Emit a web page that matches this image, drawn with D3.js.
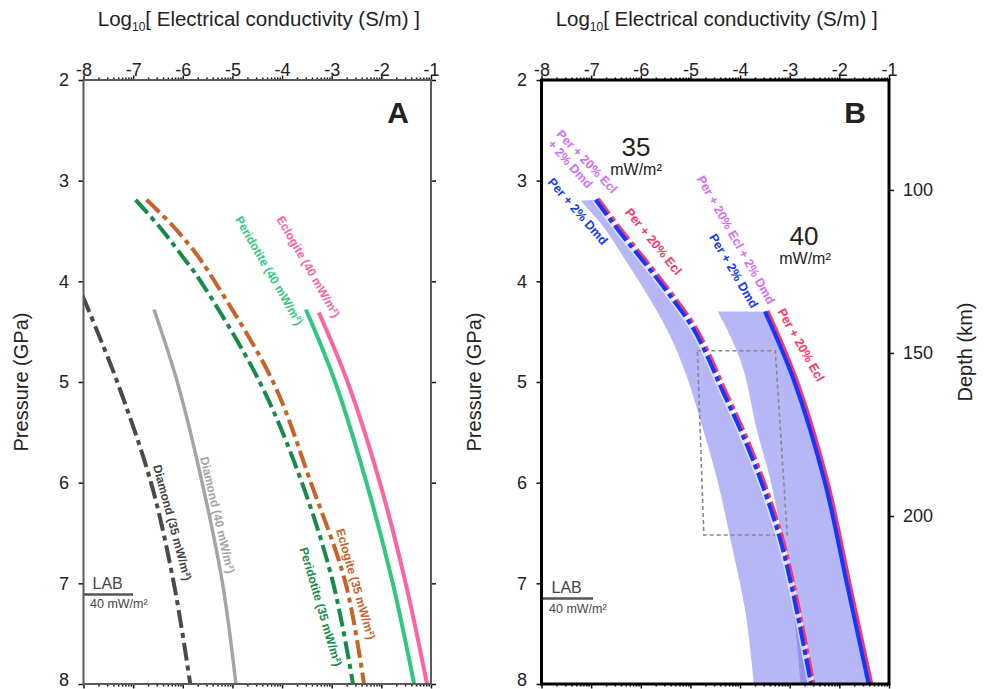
<!DOCTYPE html>
<html><head><meta charset="utf-8">
<script src="https://cdn.jsdelivr.net/npm/d3@7"></script>
<style>body{margin:0;background:#fff} svg{display:block} text{font-family:"Liberation Sans",Arial,Helvetica,sans-serif}</style>
</head><body>
<svg id="c" width="987" height="689"></svg>
<script>
// ---- axis ticks ----
const xTicks = [-8,-7,-6,-5,-4,-3,-2,-1];
const pTicks = [2,3,4,5,6,7,8];
const depthTicks = [100,150,200];
const depthDomain = [66.3, 251.5];

// ---- Panel A series: [log10 conductivity, pressure GPa] ----
const diamond35 = [[-8.02,4.14],[-7.72,4.5],[-7.32,5.0],[-6.64,6.0],[-6.18,7.0],[-5.85,8.0]];
const diamond40 = [[-6.58,4.28],[-6.11,5.0],[-5.61,6.0],[-5.2,7.0],[-4.93,8.0]];
const peridotite35 = [[-6.95,3.19],[-6.45,3.47],[-5.98,3.77],[-5.68,3.97],[-4.45,5.0],[-3.6,6.0],[-2.97,7.0],[-2.57,8.0]];
const eclogite35 = [[-6.73,3.19],[-6.18,3.46],[-5.71,3.74],[-5.41,3.96],[-4.18,5.0],[-3.42,6.0],[-2.72,7.0],[-2.35,8.0]];
const peridotite40 = [[-3.52,4.28],[-2.93,5.0],[-2.30,6.0],[-1.77,7.0],[-1.34,8.0]];
const eclogite40 = [[-3.26,4.31],[-2.68,5.0],[-2.03,6.0],[-1.51,7.0],[-1.08,8.0]];
const labAPressure = 7.11;

// ---- Panel B series ----
const band35Left = [[-7.21,3.2],[-6.75,3.46],[-6.27,3.82],[-5.80,4.19],[-5.40,4.55],[-5.07,4.95],[-4.74,5.48],[-4.46,5.97],[-4.16,6.64],[-3.89,7.29],[-3.72,8.0]];
const mix35 = [[-6.91,3.19],[-6.41,3.52],[-5.87,3.85],[-5.40,4.15],[-4.93,4.48],[-4.60,4.81],[-4.39,5.05],[-3.99,5.48],[-3.59,5.97],[-3.19,6.57],[-2.92,7.13],[-2.57,8.0]];
const band40Left = [[-4.45,4.30],[-4.19,4.55],[-3.93,4.88],[-3.66,5.48],[-3.39,5.97],[-3.12,6.64],[-2.92,7.29],[-2.78,8.0]];
const mix40 = [[-3.50,4.30],[-2.905,5.0],[-2.29,6.0],[-1.85,7.0],[-1.41,8.0]];
const zoomBox = [[-4.86,4.69],[-3.29,4.69],[-3.05,6.52],[-4.73,6.52]];
const labBPressure = 7.15;

const FONT = '"Liberation Sans",Arial,Helvetica,sans-serif';
const svg = d3.select("#c");
const yP = d3.scaleLinear().domain([2,8]).range([80,684]);
const xA = d3.scaleLinear().domain([-8,-1]).range([83.5,431]);
const xB = d3.scaleLinear().domain([-8,-1]).range([541.5,889]);
const yD = d3.scaleLinear().domain(depthDomain).range([80,684]);

const minor = [];
for (let d=-8; d<-1; d++) for (let k=2; k<=9; k++) minor.push(d+Math.log10(k));

const defs = svg.append("defs");
defs.append("clipPath").attr("id","clipA").append("rect").attr("x",83.5).attr("y",80).attr("width",431-83.5).attr("height",604);
defs.append("clipPath").attr("id","clipB").append("rect").attr("x",541.5).attr("y",80).attr("width",889-541.5).attr("height",604);

function lineGen(x){ return d3.line().x(d=>x(d[0])).y(d=>yP(d[1])).curve(d3.curveCatmullRom.alpha(0.5)); }

function axesFor(x, left, right, boxColor, boxW, isB){
  const g = svg.append("g");
  const fmt = d => String(d);
  const top = g.append("g").attr("transform",`translate(0,80)`)
    .call(d3.axisTop(x).tickValues(xTicks).tickSize(4.5).tickPadding(0).tickFormat(fmt));
  top.selectAll("text").attr("font-size",18).attr("fill","#222").style("font-family",FONT);
  g.append("g").attr("transform",`translate(0,80)`).call(d3.axisTop(x).tickValues(minor).tickSize(2.5).tickFormat(""));
  g.append("g").attr("transform",`translate(0,684)`).call(d3.axisBottom(x).tickValues(xTicks).tickSize(4.5).tickFormat(""));
  g.append("g").attr("transform",`translate(0,684)`).call(d3.axisBottom(x).tickValues(minor).tickSize(2.5).tickFormat(""));
  const l = g.append("g").attr("transform",`translate(${left},0)`)
    .call(d3.axisLeft(yP).tickValues(pTicks).tickSize(5).tickPadding(9.5).tickFormat(fmt));
  l.selectAll("text").attr("font-size",18).attr("fill","#222").style("font-family",FONT);
  l.selectAll(".tick").filter(d => d === 8).select("text").attr("y",-3).attr("dy","0.25em");
  if (!isB) {
    g.append("g").attr("transform",`translate(${right},0)`).call(d3.axisRight(yP).tickValues(pTicks).tickSize(5).tickFormat(""));
  } else {
    const r = g.append("g").attr("transform",`translate(${right},0)`)
      .call(d3.axisRight(yD).tickValues(depthTicks).tickSize(5).tickPadding(9).tickFormat(fmt));
    r.selectAll("text").attr("font-size",18).attr("fill","#222").style("font-family",FONT);
  }
  g.selectAll(".domain").remove();
  g.selectAll(".tick line").attr("stroke","#111").attr("stroke-width",1.5);
  svg.append("rect").attr("x",left).attr("y",80).attr("width",right-left).attr("height",604)
    .attr("fill","none").attr("stroke",boxColor).attr("stroke-width",boxW);
}

function title(cx){
  const t = svg.append("text").attr("x",cx).attr("y",26).attr("text-anchor","middle")
    .attr("font-size",20.5).attr("fill","#222");
  t.append("tspan").text("Log");
  t.append("tspan").attr("font-size",12).attr("dy",5).text("10");
  t.append("tspan").attr("dy",-5).text("[ Electrical conductivity (S/m) ]");
}

function rotLabel(cx,cy,ang,txt,color,size){
  svg.append("text").attr("transform",`translate(${cx},${cy}) rotate(${ang})`)
    .attr("text-anchor","middle").attr("dominant-baseline","central")
    .attr("font-size",size).attr("font-weight","bold").attr("fill",color).text(txt);
}

// ================= Panel A =================
const gA = svg.append("g").attr("clip-path","url(#clipA)");
const lA = lineGen(xA);
const dashA = "18,5,5,5";
gA.append("path").attr("d",lA(diamond35)).attr("fill","none").attr("stroke","#4a4a4a").attr("stroke-width",4).attr("stroke-dasharray",dashA);
gA.append("path").attr("d",lA(diamond40)).attr("fill","none").attr("stroke","#a5a5a5").attr("stroke-width",3.5);
gA.append("path").attr("d",lA(peridotite35)).attr("fill","none").attr("stroke","#148c48").attr("stroke-width",4).attr("stroke-dasharray",dashA);
gA.append("path").attr("d",lA(eclogite35)).attr("fill","none").attr("stroke","#c96128").attr("stroke-width",4).attr("stroke-dasharray",dashA);
gA.append("path").attr("d",lA(peridotite40)).attr("fill","none").attr("stroke","#30c87c").attr("stroke-width",4);
gA.append("path").attr("d",lA(eclogite40)).attr("fill","none").attr("stroke","#ff62a0").attr("stroke-width",4);

rotLabel(269,270.7,60,"Peridotite (40 mW/m²)","#30c880",12);
rotLabel(308.3,266.7,60,"Eclogite (40 mW/m²)","#ff5fa5",12);
rotLabel(172.3,522.7,75,"Diamond (35 mW/m²)","#444",12);
rotLabel(217.3,515,77,"Diamond (40 mW/m²)","#a5a5a5",12);
rotLabel(355.7,584,74,"Eclogite (35 mW/m²)","#c96128",12);
rotLabel(320.7,606.7,73.7,"Peridotite (35 mW/m²)","#148c48",12);

// LAB A
svg.append("line").attr("x1",83.5).attr("x2",133).attr("y1",yP(labAPressure)).attr("y2",yP(labAPressure)).attr("stroke","#555").attr("stroke-width",2.5);
svg.append("text").attr("x",92.5).attr("y",yP(labAPressure)-5.5).attr("font-size",16).attr("fill","#444").text("LAB");
svg.append("text").attr("x",90).attr("y",yP(labAPressure)+14).attr("font-size",12.5).attr("fill","#444").text("40 mW/m²");

svg.append("text").attr("x",398).attr("y",123).attr("text-anchor","middle").attr("font-size",30).attr("font-weight","bold").attr("fill","#222").text("A");

axesFor(xA,83.5,431,"#5a5a5a",2,false);
title(258.8);
svg.append("text").attr("transform","translate(28,382) rotate(-90)").attr("text-anchor","middle").attr("font-size",20).attr("fill","#222").text("Pressure (GPa)");

// ================= Panel B =================
const gB = svg.append("g").attr("clip-path","url(#clipB)");
const lB = lineGen(xB);
function bandPath(leftEdge, rightEdge){
  const a = lB(leftEdge);
  const b = lB(rightEdge.slice().reverse());
  return a + b.replace(/^M/,"L") + "Z";
}
gB.append("path").attr("d",bandPath(band35Left,mix35)).attr("fill","#7070f0").attr("fill-opacity",0.5);
gB.append("path").attr("d",bandPath(band40Left,mix40)).attr("fill","#7070f0").attr("fill-opacity",0.5);

gB.append("path").attr("d",d3.line().x(d=>xB(d[0])).y(d=>yP(d[1]))(zoomBox)+"Z")
  .attr("fill","none").attr("stroke","#888").attr("stroke-width",1.6).attr("stroke-dasharray","4,3");

const dashB = "19,4,5,4";
gB.append("path").attr("d",lB(mix35)).attr("fill","none").attr("stroke","#fff").attr("stroke-opacity",0.6).attr("stroke-width",7);
gB.append("path").attr("d",lB(mix35)).attr("fill","none").attr("stroke","#ff3366").attr("stroke-width",4).attr("stroke-dasharray",dashB).attr("transform","translate(2.2,-1.2)");
gB.append("path").attr("d",lB(mix35)).attr("fill","none").attr("stroke","#1238ff").attr("stroke-width",4).attr("stroke-dasharray",dashB);
gB.append("path").attr("d",lB(mix40)).attr("fill","none").attr("stroke","#ff3366").attr("stroke-width",4).attr("transform","translate(2.5,-0.8)");
gB.append("path").attr("d",lB(mix40)).attr("fill","none").attr("stroke","#1238ff").attr("stroke-width",4);

rotLabel(586.7,161.7,46.5,"Per + 20% Ecl","#d36cff",12.5);
rotLabel(570,164.2,48,"+ 2% Dmd","#d36cff",12.5);
rotLabel(577.5,211.5,49,"Per + 2% Dmd","#1238ff",12.5);
rotLabel(653.3,241.7,51,"Per + 20% Ecl","#ff3366",12.5);
rotLabel(735.8,240,60.5,"Per + 20% Ecl + 2% Dmd","#d36cff",12.5);
rotLabel(733.5,271,59.4,"Per + 2% Dmd","#1238ff",12.5);
rotLabel(800.8,345,60.4,"Per + 20% Ecl","#ff3366",12.5);

svg.append("text").attr("x",636).attr("y",156).attr("text-anchor","middle").attr("font-size",26).attr("fill","#222").text("35");
svg.append("text").attr("x",636).attr("y",175).attr("text-anchor","middle").attr("font-size",16).attr("fill","#222").text("mW/m²");
svg.append("text").attr("x",804).attr("y",245).attr("text-anchor","middle").attr("font-size",26).attr("fill","#222").text("40");
svg.append("text").attr("x",805).attr("y",264).attr("text-anchor","middle").attr("font-size",16).attr("fill","#222").text("mW/m²");

// LAB B
svg.append("line").attr("x1",541.5).attr("x2",593).attr("y1",yP(labBPressure)).attr("y2",yP(labBPressure)).attr("stroke","#555").attr("stroke-width",2.5);
svg.append("text").attr("x",551.5).attr("y",yP(labBPressure)-5.5).attr("font-size",16).attr("fill","#444").text("LAB");
svg.append("text").attr("x",549).attr("y",yP(labBPressure)+14.5).attr("font-size",12.5).attr("fill","#444").text("40 mW/m²");

svg.append("text").attr("x",855).attr("y",123).attr("text-anchor","middle").attr("font-size",30).attr("font-weight","bold").attr("fill","#222").text("B");

axesFor(xB,541.5,889,"#000",3,true);
title(716.7);
svg.append("text").attr("transform","translate(481,382) rotate(-90)").attr("text-anchor","middle").attr("font-size",20).attr("fill","#222").text("Pressure (GPa)");
svg.append("text").attr("transform","translate(972,352) rotate(-90)").attr("text-anchor","middle").attr("font-size",20).attr("fill","#222").text("Depth (km)");
</script>
</body></html>
